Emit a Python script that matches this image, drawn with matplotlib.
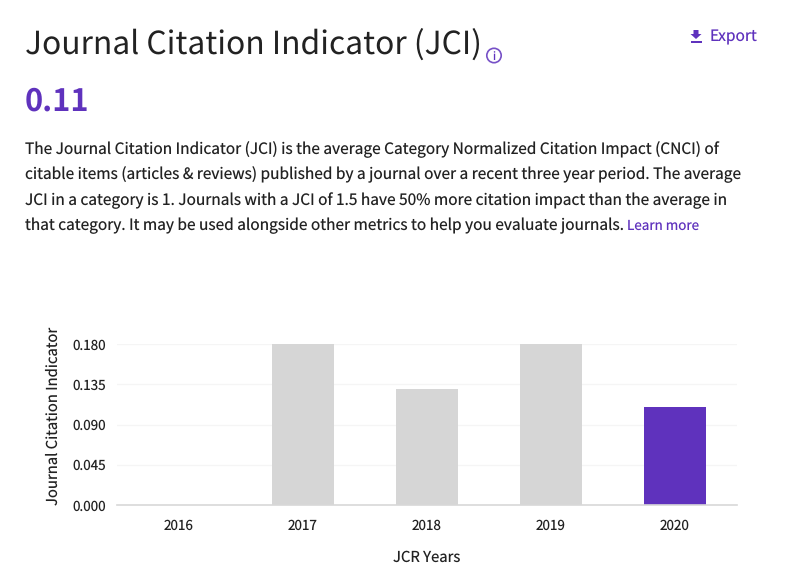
import matplotlib
matplotlib.use("Agg")
import matplotlib.pyplot as plt
from matplotlib.patches import Circle, Polygon, Rectangle
from matplotlib.transforms import IdentityTransform

plt.rcParams['font.family'] = ['Noto Sans CJK SC', 'DejaVu Sans']
plt.rcParams['text.hinting'] = 'no_hinting'
plt.rcParams['text.hinting_factor'] = 1

years = ['2016', '2017', '2018', '2019', '2020']
values = [0.0, 0.18, 0.13, 0.18, 0.11]
bar_colors = ['#d6d6d6', '#d6d6d6', '#d6d6d6', '#d6d6d6', '#5f32bd']
y_ticks = [0.0, 0.045, 0.09, 0.135, 0.18]
y_tick_labels = ['0.000', '0.045', '0.090', '0.135', '0.180']
body_lines = [
    'The Journal Citation Indicator (JCI) is the average Category Normalized Citation Impact (CNCI) of',
    'citable items (articles & reviews) published by a journal over a recent three year period. The average',
    'JCI in a category is 1. Journals with a JCI of 1.5 have 50% more citation impact than the average in',
    'that category. It may be used alongside other metrics to help you evaluate journals.',
]

W, H = 788, 569
PURPLE = '#5f32bd'
INK = '#222222'
fig = plt.figure(figsize=(W / 100, H / 100), dpi=100, facecolor='white')

def px(x, y):
    return x / W, 1 - y / H

# chart
ax = fig.add_axes([117 / W, 1 - 505 / H, (737 - 117) / W, (505 - 344) / H])
x = list(range(len(years)))
ax.bar(x, values, width=0.5, color=bar_colors, zorder=2)
ax.set_xlim(-0.5, 4.5)
ax.set_ylim(0, 0.18)
ax.set_xticks(x, years)
ax.set_yticks(y_ticks, y_tick_labels)
ax.tick_params(axis='both', length=0, labelsize=9.7, labelcolor=INK)
ax.tick_params(axis='x', pad=10)
ax.tick_params(axis='y', pad=8)
ax.grid(axis='y', color='#f5f5f5', linewidth=1, zorder=0)
ax.set_axisbelow(True)
ax.patch.set_alpha(0)
for s in ['top', 'right', 'left']:
    ax.spines[s].set_visible(False)
ax.spines['bottom'].set_color('#d8d8d8')
ax.spines['bottom'].set_linewidth(1.2)
fig.text(*px(426.5, 557), 'JCR Years', fontsize=10.7, color=INK, ha='center', va='center')
fig.text(*px(53, 415.5), 'Journal Citation Indicator', rotation=90, fontsize=10.7,
         color=INK, ha='center', va='center')

# header text
fig.text(*px(25, 45), 'Journal Citation Indicator (JCI)', fontsize=22.9, color=INK, ha='left', va='center')
fig.text(*px(25, 102), '0.11', fontsize=22.2, color=PURPLE, fontweight='bold', ha='left', va='center')
fig.text(*px(709.5, 37), 'Export', fontsize=11.2, color=PURPLE, ha='left', va='center')

# body text
for line, yp in zip(body_lines, [150, 175, 201, 226]):
    fig.text(*px(25, yp), line, fontsize=11.14, color=INK, ha='left', va='center')
fig.text(*px(627, 226), 'Learn more', fontsize=9.7, color=PURPLE, ha='left', va='center')

# info icon
fig.add_artist(Circle((494, H - 55.5), 7.2, transform=IdentityTransform(), fill=False, ec=PURPLE, lw=1.2, alpha=0.85))
fig.text(*px(494, 56.5), 'i', fontsize=8, color=PURPLE, ha='center', va='center')

# export icon
fig.add_artist(Polygon([(693.5, H - 30), (698.5, H - 30), (698.5, H - 34), (701.5, H - 34),
                        (696, H - 39), (690.5, H - 34), (693.5, H - 34)],
                       closed=True, transform=IdentityTransform(), fc=PURPLE, ec='none'))
fig.add_artist(Rectangle((690.5, H - 42.5), 11, 1.5, transform=IdentityTransform(), fc=PURPLE, ec='none'))

fig.savefig('out.png', dpi=100, facecolor='white')
